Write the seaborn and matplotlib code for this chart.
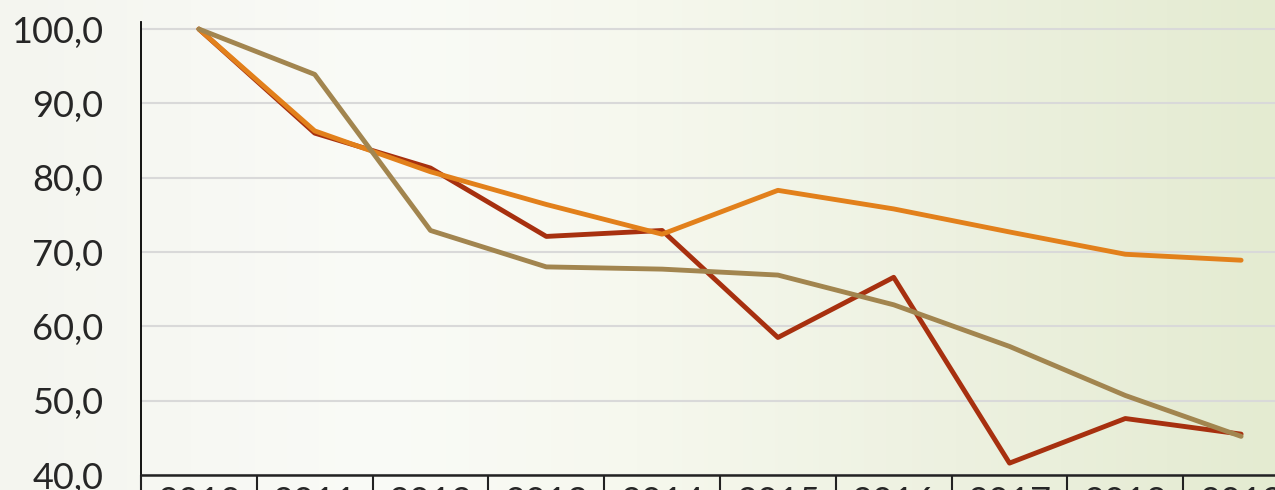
import numpy as np
import pandas as pd
import seaborn as sns
import matplotlib.pyplot as plt
from matplotlib import font_manager
from matplotlib.colors import to_rgb
from matplotlib.ticker import FixedLocator

years = ["2010", "2011", "2012", "2013", "2014", "2015", "2016", "2017", "2018", "2019"]
series_red = [100.0, 86.0, 81.3, 72.1, 72.9, 58.5, 66.6, 41.6, 47.6, 45.5]
series_orange = [100.0, 86.3, 80.8, 76.4, 72.4, 78.3, 75.8, 72.7, 69.7, 68.9]
series_tan = [100.0, 93.9, 72.9, 68.0, 67.7, 66.9, 62.9, 57.3, 50.7, 45.2]
y_ticks = [40, 50, 60, 70, 80, 90, 100]

colors = {"red": "#A7300F", "orange": "#E2801B", "tan": "#A2854F"}

df = pd.DataFrame({
    "year": years * 3,
    "value": series_red + series_orange + series_tan,
    "series": ["red"] * 10 + ["orange"] * 10 + ["tan"] * 10,
})
df["x"] = df.groupby("series").cumcount()

sns.set_style("white")
installed = {f.name for f in font_manager.fontManager.ttflist}
font = next(f for f in ["Liberation Sans Narrow", "DejaVu Sans Condensed", "Lato"] if f in installed)
plt.rcParams["font.family"] = [font, "DejaVu Sans"]

fig = plt.figure(figsize=(12.75, 4.9), dpi=100)

# background gradient (white to pale green)
bg = fig.add_axes([0, 0, 1, 1], zorder=0)
xs = np.linspace(0, 1, 400)
stops = [0.0, 0.3, 0.5, 0.75, 1.0]
cols = [to_rgb("#F4F5EF"), to_rgb("#FAFBF7"), to_rgb("#F6F8EE"), to_rgb("#EDF1E0"), to_rgb("#E4EBD1")]
grad = np.stack([np.interp(xs, stops, [c[i] for c in cols]) for i in range(3)], axis=-1)
grad = np.repeat(grad[None, :, :], 10, axis=0)
bg.imshow(grad, aspect="auto", extent=[0, 1, 0, 1])
bg.set_axis_off()

ax = fig.add_axes([141 / 1275, 15 / 490, 1158 / 1275, 453 / 490], zorder=1)
ax.set_facecolor("none")

sns.lineplot(data=df, x="x", y="value", hue="series", palette=colors,
             hue_order=["red", "orange", "tan"], linewidth=3.5, legend=False,
             ax=ax, zorder=3)
for line in ax.get_lines():
    line.set_solid_capstyle("round")

ax.set_xlim(-0.5, 9.5)
ax.set_ylim(40, 100.95)
ax.set_yticks(y_ticks)
ax.set_yticklabels([f"{v:.1f}".replace(".", ",") for v in y_ticks])
ax.yaxis.grid(True, color="#D9D9D9", linewidth=1.5)
ax.set_axisbelow(True)

ax.set_xticks(range(len(years)))
ax.set_xticklabels(years)
ax.xaxis.set_minor_locator(FixedLocator(np.arange(-0.5, 10, 1)))
ax.tick_params(axis="x", which="major", bottom=True, length=0, pad=8, labelsize=26)
ax.tick_params(axis="x", which="minor", bottom=True, length=25, width=1.5,
               color="#222222", direction="out")
ax.tick_params(axis="y", length=0, pad=27, labelsize=26)

for s in ["top", "right"]:
    ax.spines[s].set_visible(False)
ax.spines["left"].set_color("black")
ax.spines["left"].set_linewidth(1.3)
ax.spines["bottom"].set_color("#222222")
ax.spines["bottom"].set_linewidth(1.8)
ax.set_xlabel("")
ax.set_ylabel("")

fig.savefig("out.png", dpi=100)
